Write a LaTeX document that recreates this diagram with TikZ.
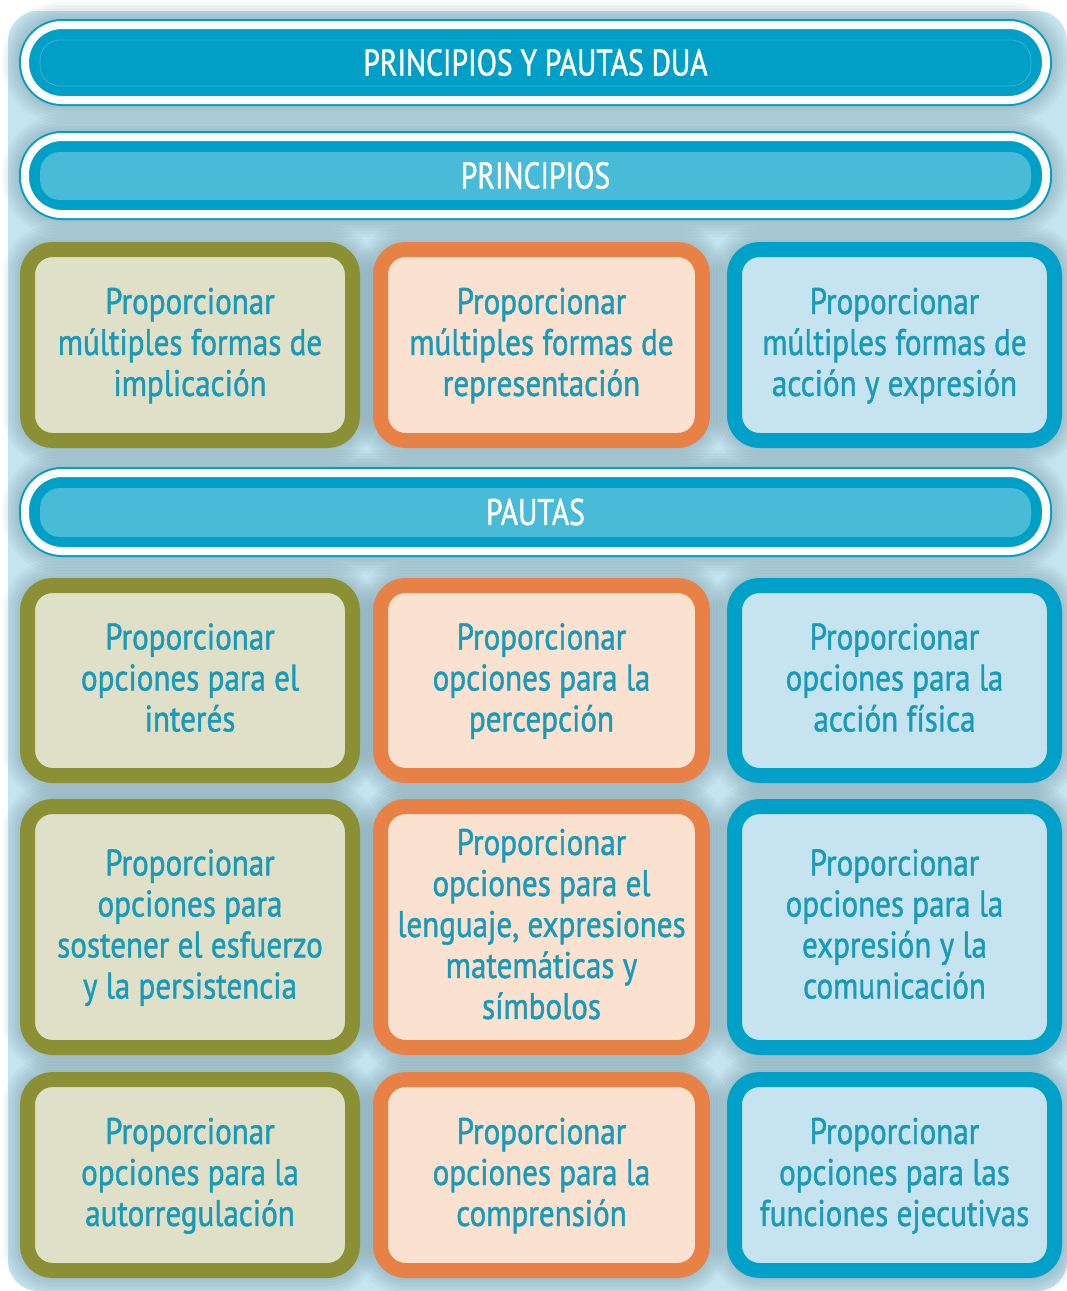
\documentclass[tikz,border=0pt]{standalone}
\usepackage{fontspec}
\newfontfamily\cond[FakeStretch=0.84,FakeBold=1.2]{PT Sans}
\newfontfamily\condh[FakeStretch=0.8,FakeBold=1.2]{PT Sans}
\definecolor{cTeal}{HTML}{00A0C6}
\definecolor{cTealLight}{HTML}{47BBD8}
\definecolor{cTealLine}{HTML}{3CB3D4}
\definecolor{cOlive}{HTML}{8B9035}
\definecolor{cOliveFill}{HTML}{E0E0C8}
\definecolor{cOrange}{HTML}{E88145}
\definecolor{cOrangeFill}{HTML}{FBE1CF}
\definecolor{cBlue}{HTML}{00A1C8}
\definecolor{cBlueFill}{HTML}{C6E4EF}
\definecolor{cText}{HTML}{1A9AB9}
\definecolor{cBack}{HTML}{C4E4EF}
\definecolor{cShadow}{HTML}{3D5A66}
\pgfdeclarelayer{back}
\pgfdeclarelayer{glowl}
\pgfsetlayers{back,glowl,main}
\newcommand\myglow[3]{%
  \foreach \e in {2,5,8,11,14,17}{%
    \pgfmathsetmacro\ee{#3+\e}%
    \pgfmathsetmacro\rr{#2+\ee}%
    \fill[cShadow,opacity=0.045,rounded corners=\rr pt]
      ([shift={(-\ee pt,\ee pt)}]#1.north west) rectangle ([shift={(\ee pt,-\ee pt)}]#1.south east);
  }}
\tikzset{
  txtfont/.style={font=\cond\fontsize{37}{41}\selectfont},
  box/.style={line width=15pt, rounded corners=25pt, inner sep=0pt, outer sep=0pt,
    align=center, text=cText, txtfont,
    execute at begin node={\rule{0pt}{36.7pt}}, execute at end node=\strut},
  colA/.style={box, draw=cOlive, fill=cOliveFill, minimum width=325pt},
  colB/.style={box, draw=cOrange, fill=cOrangeFill, minimum width=322pt},
  colC/.style={box, draw=cBlue, fill=cBlueFill, minimum width=320pt},
  hdr/.style={fill=cTeal, draw=cTeal, line width=2pt, double=white, double distance=8pt,
    rounded corners=37pt, minimum width=1021pt, inner sep=0pt, outer sep=0pt,
    text=white, font=\condh\fontsize{37}{41}\selectfont},
  hdrtop/.style={hdr, path picture={\draw[cTealLine, line width=0.8pt, rounded corners=20pt]
      ([shift={(15pt,-15pt)}]path picture bounding box.north west) rectangle
      ([shift={(-15pt,14pt)}]path picture bounding box.south east);}},
  hdrsub/.style={hdr, path picture={\fill[cTealLight, rounded corners=20pt]
      ([shift={(15pt,-15pt)}]path picture bounding box.north west) rectangle
      ([shift={(-15pt,14pt)}]path picture bounding box.south east);}},
}
\begin{document}
\begin{tikzpicture}[x=1pt,y=-1pt]
\useasboundingbox (0,0) rectangle (1067,1291);
\begin{pgfonlayer}{back}
  \fill[white] (0,0) rectangle (1067,1291);
  \fill[cBack, rounded corners=30pt] (8,11) rectangle (1067,1291);
\end{pgfonlayer}

% headers
\node[hdrtop, minimum height=75pt] (h1) at (535.5,62.5) {PRINCIPIOS Y PAUTAS DUA};
\node[hdrsub, minimum height=77pt] (h2) at (535.5,175.5) {PRINCIPIOS};
\node[hdrsub, minimum height=78pt] (h3) at (535.5,512) {PAUTAS};

% principles (text shifted slightly down as in the reference)
\node[colA, minimum height=191pt] (a1) at (190,345) {};
\node[colB, minimum height=191pt] (b1) at (541.5,345) {};
\node[colC, minimum height=191pt] (c1) at (894.5,345) {};
\node[colA, minimum height=190pt] (a2) at (190,680.5) {};
\node[colB, minimum height=190pt] (b2) at (541.5,680.5) {};
\node[colC, minimum height=190pt] (c2) at (894.5,680.5) {};
\node[colA, minimum height=241pt] (a3) at (190,927) {};
\node[colB, minimum height=241pt] (b3) at (541.5,927) {};
\node[colC, minimum height=241pt] (c3) at (894.5,927) {};
\node[colA, minimum height=191pt] (a4) at (190,1175) {};
\node[colB, minimum height=191pt] (b4) at (541.5,1175) {};
\node[colC, minimum height=191pt] (c4) at (894.5,1175) {};

\tikzset{lbl/.style={align=center, text=cText, txtfont, inner sep=0pt,
    execute at begin node=\strut, execute at end node=\strut}}
\node[lbl] (ta1) at ([yshift=-3pt]a1.center) {Proporcionar\\múltiples formas de\\implicación};
\node[lbl] (tb1) at ([yshift=-3pt]b1.center) {Proporcionar\\múltiples formas de\\representación};
\node[lbl] (tc1) at ([yshift=-3pt]c1.center) {Proporcionar\\múltiples formas de\\acción y expresión};
\node[lbl] (ta2) at ([yshift=-3pt]a2.center) {Proporcionar\\opciones para el\\interés};
\node[lbl] (tb2) at ([yshift=-3pt]b2.center) {Proporcionar\\opciones para la\\percepción};
\node[lbl] (tc2) at ([yshift=-3pt]c2.center) {Proporcionar\\opciones para la\\acción física};
\node[lbl] (ta3) at ([yshift=-3pt]a3.center) {Proporcionar\\opciones para\\sostener el esfuerzo\\y la persistencia};
\node[lbl] (tb3) at ([yshift=-3pt]b3.center) {Proporcionar\\opciones para el\\lenguaje, expresiones\\matemáticas y\\símbolos};
\node[lbl] (tc3) at ([yshift=-3pt]c3.center) {Proporcionar\\opciones para la\\expresión y la\\comunicación};
\node[lbl] (ta4) at ([yshift=-3pt]a4.center) {Proporcionar\\opciones para la\\autorregulación};
\node[lbl] (tb4) at ([yshift=-3pt]b4.center) {Proporcionar\\opciones para la\\comprensión};
\node[lbl] (tc4) at ([yshift=-3pt]c4.center) {Proporcionar\\opciones para las\\funciones ejecutivas};

\begin{pgfonlayer}{glowl}
  \myglow{h1}{37}{6}
  \myglow{h2}{37}{6}
  \myglow{h3}{37}{6}
  \foreach \n in {a1,b1,c1,a2,b2,c2,a3,b3,c3,a4,b4,c4}{\myglow{\n}{25}{7.5}}
\end{pgfonlayer}
\end{tikzpicture}
\end{document}
